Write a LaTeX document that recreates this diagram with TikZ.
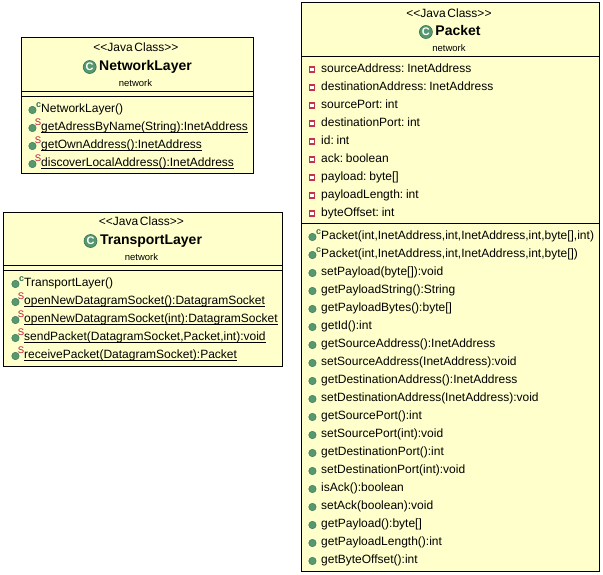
\documentclass[tikz,border=0pt]{standalone}
\usepackage{fontspec}
\setmainfont[WordSpace=0.5]{Liberation Sans}
\usetikzlibrary{positioning}
\definecolor{notepaper}{RGB}{255,255,204}
\definecolor{icongreen}{RGB}{86,152,112}
\definecolor{icondark}{RGB}{52,112,80}
\definecolor{fieldred}{RGB}{196,52,72}
\definecolor{statred}{RGB}{190,20,60}
\newcommand{\statname}[1]{\underline{\smash{#1}}}

\begin{document}
\begin{tikzpicture}[
  x=1pt, y=-1pt,
  classbox/.style={rectangle, draw=black, fill=notepaper, line width=1pt, inner sep=0pt},
  stereo/.style={font=\fontsize{12}{13}\selectfont, inner sep=0pt},
  pkg/.style={font=\fontsize{9.5}{11}\selectfont, inner sep=0pt},
  cname/.style={font=\fontsize{14}{16}\selectfont\bfseries, inner sep=0pt,
    text height=10pt, text depth=3pt,
    label={[cicon, xshift=-2.5pt]left:\textbf{C}}},
  cicon/.style={circle, fill=icongreen, draw=icondark, line width=.6pt, text=white, inner sep=0pt,
    minimum size=13pt, font=\fontsize{11}{11}\selectfont},
  sep/.style={line width=1pt, black},
  row/.style={anchor=west, font=\fontsize{12}{13}\selectfont, inner sep=0pt,
    text height=9pt, text depth=3pt},
  dot/.style={circle, fill=icongreen, draw=icondark, line width=.4pt, inner sep=0pt, minimum size=7.5pt, xshift=-4.6pt, yshift=-.5pt},
  cmark/.style={font=\fontsize{9}{9}\selectfont\bfseries, text=icondark, inner sep=0pt, xshift=.3pt, yshift=4.5pt},
  smark/.style={font=\fontsize{9.5}{9}\selectfont, text=statred, inner sep=0pt, xshift=.3pt, yshift=5pt},
  fmark/.style={rectangle, fill=white, draw=fieldred, line width=1.4pt, inner sep=0pt, minimum size=4.8pt, xshift=-6pt},
  fieldrow/.style={row, label={[fmark]left:}},
  methrow/.style={row, label={[dot]left:}},
  ctorrow/.style={row, label={[dot]left:}, label={[cmark]left:c}},
  statrow/.style={row, label={[dot]left:}, label={[smark]left:S}},
]
  \useasboundingbox (0,0) rectangle (603,575);

  % network layer class
  \node[classbox, minimum width=232pt, minimum height=136pt] (nl) at (137.5,106) {};
  \node[stereo] (nlst) at (136,47.5) {<{}<Java Class>{}>};
  \node[cname] (nlname) at (145.5,67) {NetworkLayer};
  \node[pkg] (nlpkg) at (135.5,83) {network};
  \draw[sep] ([yshift=-54.3pt]nl.north west) -- ([yshift=-54.3pt]nl.north east);
  \draw[sep] ([yshift=-59.3pt]nl.north west) -- ([yshift=-59.3pt]nl.north east);
  \node[ctorrow] (nlm1) at (41,109.5) {NetworkLayer()};
  \node[statrow] (nlm2) at (41,127.5) {\statname{getAdressByName(String):InetAddress}};
  \node[statrow] (nlm3) at (41,145.5) {\statname{getOwnAddress():InetAddress}};
  \node[statrow] (nlm4) at (41,163.5) {\statname{discoverLocalAddress():InetAddress}};

  % transport layer class
  \node[classbox, minimum width=279.4pt, minimum height=154.4pt] (tl) at (143,289.5) {};
  \node[stereo] (tlst) at (141.5,221.7) {<{}<Java Class>{}>};
  \node[cname] (tlname) at (151,241) {TransportLayer};
  \node[pkg] (tlpkg) at (141.5,257.5) {network};
  \draw[sep] ([yshift=-54pt]tl.north west) -- ([yshift=-54pt]tl.north east);
  \draw[sep] ([yshift=-59pt]tl.north west) -- ([yshift=-59pt]tl.north east);
  \node[ctorrow] (tlm1) at (24,283.5) {TransportLayer()};
  \node[statrow] (tlm2) at (24,301.5) {\statname{openNewDatagramSocket():DatagramSocket}};
  \node[statrow] (tlm3) at (24,319.5) {\statname{openNewDatagramSocket(int):DatagramSocket}};
  \node[statrow] (tlm4) at (24,337.5) {\statname{sendPacket(DatagramSocket,Packet,int):void}};
  \node[statrow] (tlm5) at (24,355.5) {\statname{receivePacket(DatagramSocket):Packet}};

  % packet class
  \node[classbox, minimum width=297.5pt, minimum height=568pt] (pk) at (450.5,287) {};
  \node[stereo] (pkst) at (449,13) {<{}<Java Class>{}>};
  \node[cname] (pkname) at (458,32) {Packet};
  \node[pkg] (pkpkg) at (449,48.5) {network};
  \draw[sep] ([yshift=-54.3pt]pk.north west) -- ([yshift=-54.3pt]pk.north east);
  \draw[sep] ([yshift=-221pt]pk.north west) -- ([yshift=-221pt]pk.north east);

  % fields
  \node[fieldrow] (pkf1) at (321,69.5) {sourceAddress: InetAddress};
  \node[fieldrow] (pkf2) at (321,87.5) {destinationAddress: InetAddress};
  \node[fieldrow] (pkf3) at (321,105.5) {sourcePort: int};
  \node[fieldrow] (pkf4) at (321,123.5) {destinationPort: int};
  \node[fieldrow] (pkf5) at (321,141.5) {id: int};
  \node[fieldrow] (pkf6) at (321,159.5) {ack: boolean};
  \node[fieldrow] (pkf7) at (321,177.5) {payload: byte[]};
  \node[fieldrow] (pkf8) at (321,195.5) {payloadLength: int};
  \node[fieldrow] (pkf9) at (321,213.5) {byteOffset: int};

  % methods
  \node[ctorrow] (pkm1) at (321,236.5) {Packet(int,InetAddress,int,InetAddress,int,byte[],int)};
  \node[ctorrow] (pkm2) at (321,254.5) {Packet(int,InetAddress,int,InetAddress,int,byte[])};
  \node[methrow] (pkm3) at (321,272.5) {setPayload(byte[]):void};
  \node[methrow] (pkm4) at (321,290.5) {getPayloadString():String};
  \node[methrow] (pkm5) at (321,308.5) {getPayloadBytes():byte[]};
  \node[methrow] (pkm6) at (321,326.5) {getId():int};
  \node[methrow] (pkm7) at (321,344.5) {getSourceAddress():InetAddress};
  \node[methrow] (pkm8) at (321,362.5) {setSourceAddress(InetAddress):void};
  \node[methrow] (pkm9) at (321,380.5) {getDestinationAddress():InetAddress};
  \node[methrow] (pkm10) at (321,398.5) {setDestinationAddress(InetAddress):void};
  \node[methrow] (pkm11) at (321,416.5) {getSourcePort():int};
  \node[methrow] (pkm12) at (321,434.5) {setSourcePort(int):void};
  \node[methrow] (pkm13) at (321,452.5) {getDestinationPort():int};
  \node[methrow] (pkm14) at (321,470.5) {setDestinationPort(int):void};
  \node[methrow] (pkm15) at (321,488.5) {isAck():boolean};
  \node[methrow] (pkm16) at (321,506.5) {setAck(boolean):void};
  \node[methrow] (pkm17) at (321,524.5) {getPayload():byte[]};
  \node[methrow] (pkm18) at (321,542.5) {getPayloadLength():int};
  \node[methrow] (pkm19) at (321,560.5) {getByteOffset():int};
\end{tikzpicture}
\end{document}
